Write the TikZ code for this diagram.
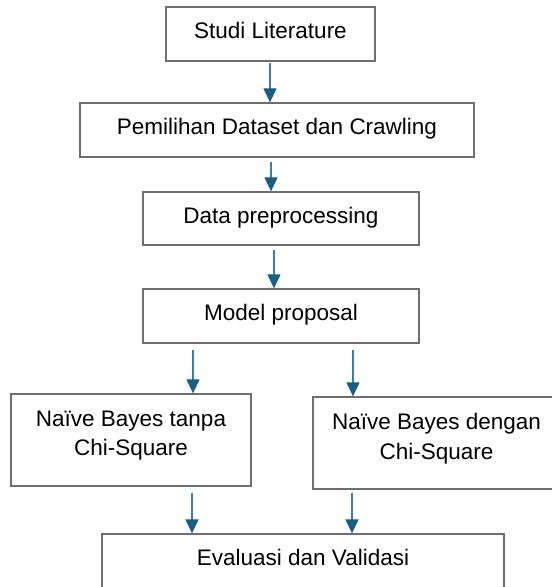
\documentclass[tikz,border=0pt]{standalone}
\usepackage{fontspec}
\setmainfont{Liberation Sans}
\usetikzlibrary{arrows.meta}
\definecolor{boxline}{HTML}{6E6E6E}
\definecolor{arrline}{HTML}{3C7FA3}
\definecolor{arrhead}{HTML}{1A5E82}
\begin{document}
\begin{tikzpicture}[x=1pt,y=1pt,
  box/.style={draw=boxline, line width=1.3pt, fill=white, inner sep=0pt,
    text height=16pt, text depth=7pt, font=\fontsize{22.5}{29.5}\selectfont},
  frame/.style={draw=boxline, line width=1.3pt, inner sep=0pt},
  lbl/.style={inner sep=0pt, align=center, font=\fontsize{22.5}{29.5}\selectfont},
  arr/.style={draw=arrline, line width=1.2pt,
    -{Triangle[length=14pt,width=13pt,fill=arrhead,color=arrhead]}}]
\useasboundingbox (0,0) rectangle (552,-587);
\clip (0,0) rectangle (552,-587);
\fill[white] (0,0) rectangle (552,-587);
\node[box, minimum width=209pt, minimum height=54pt] (b1) at (270.5,-34) {Studi Literature};
\node[box, minimum width=394pt, minimum height=54pt] (b2) at (277,-130) {Pemilihan Dataset dan Crawling};
\node[box, minimum width=276pt, minimum height=53pt] (b3) at (281,-218.5) {Data preprocessing};
\node[box, minimum width=276pt, minimum height=54pt] (b4) at (281,-316) {Model proposal};
\node[frame, minimum width=240pt, minimum height=92pt] (b5) at (131,-440) {};
\node[frame, minimum width=247pt, minimum height=92pt] (b6) at (436.5,-443) {};
\node[frame, minimum width=402pt, minimum height=80pt] (b7) at (303,-574) {};
\node[lbl, anchor=north] (t5) at ([yshift=-17pt]b5.north) {Naïve Bayes tanpa\\Chi-Square};
\node[lbl, anchor=north] (t6) at ([yshift=-17pt]b6.north) {Naïve Bayes dengan\\Chi-Square};
\node[lbl, anchor=base] (t7) at ([yshift=-32.5pt]b7.north) {Evaluasi dan Validasi};
\draw[arr] ([xshift=-0.5pt,yshift=-1pt]b1.south) -- ([xshift=-0.5pt]b1.south |- b2.north);
\draw[arr] ([xshift=-6pt,yshift=-4pt]b2.south) -- ([xshift=-6pt]b2.south |- b3.north);
\draw[arr] ([xshift=-7pt,yshift=-4pt]b3.south) -- ([xshift=-7pt]b3.south |- b4.north);
\draw[arr] ([xshift=-88pt,yshift=-6pt]b4.south) -- ([xshift=-88pt]b4.south |- b5.north);
\draw[arr] ([xshift=72pt,yshift=-6pt]b4.south) -- ([xshift=72pt]b4.south |- b6.north);
\draw[arr] ([xshift=61pt,yshift=-6pt]b5.south) -- ([xshift=61pt]b5.south |- b7.north);
\draw[arr] ([xshift=-84.5pt,yshift=-3pt]b6.south) -- ([xshift=-84.5pt]b6.south |- b7.north);
\end{tikzpicture}
\end{document}
